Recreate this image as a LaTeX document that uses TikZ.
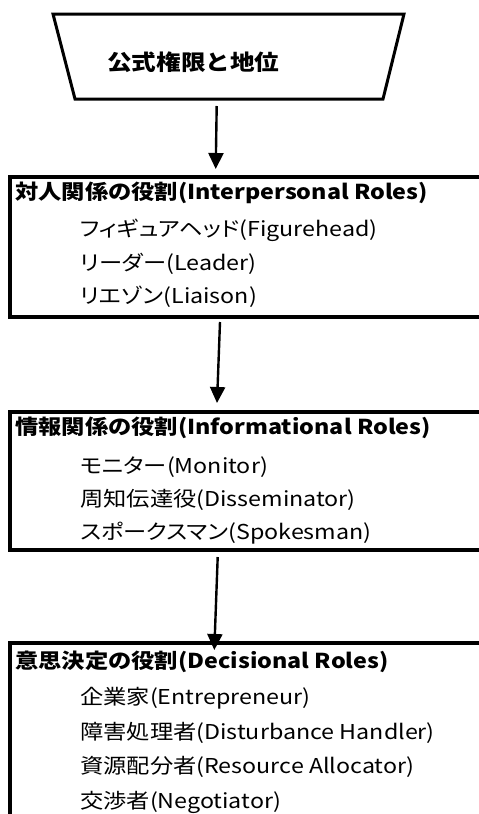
\documentclass[tikz,border=0pt]{standalone}
\usepackage{fontspec}
\setmainfont{Noto Sans CJK JP}[FakeStretch=1.135]
\newfontfamily\propjp{Noto Sans CJK JP}[FakeStretch=1.135, RawFeature=+palt]
\usetikzlibrary{arrows.meta}
\tikzset{
  roleframe/.style={draw=black, line width=4pt},
  trapframe/.style={draw=black, line width=3pt, line join=miter},
  flow/.style={draw=black, line width=2.4pt, -{Triangle[length=16pt,width=15pt]}},
  headtext/.style={anchor=west, inner sep=0pt, font=\fontsize{20.5}{24}\selectfont\bfseries},
  itemtext/.style={anchor=west, inner sep=0pt, font=\propjp\fontsize{20.5}{24}\selectfont},
  toptext/.style={anchor=west, inner sep=0pt, font=\fontsize{21.7}{24}\selectfont\bfseries}
}
\begin{document}
\begin{tikzpicture}[x=1pt,y=-1pt]
\useasboundingbox (0,0) rectangle (479,814);
\clip (0,0) rectangle (479,814);
% source trapezoid
\coordinate (t1) at (53,14);
\coordinate (t2) at (404,14);
\coordinate (t3) at (383,99);
\coordinate (t4) at (75,99);
\draw[trapframe] (t1) -- (t2) -- (t3) -- (t4) -- cycle;
\node[toptext] (src) at (107,62) {公式権限と地位};
% boxes
\draw[roleframe] (10.3,177) rectangle (495,317);
\draw[roleframe] (10.3,412) rectangle (495,550);
\draw[roleframe] (10.3,643) rectangle (495,840);
% box 1
\node[headtext] (h1) at (15,193) {対人関係の役割(Interpersonal Roles)};
\node[itemtext] (i11) at (80,230) {フィギュアヘッド(Figurehead)};
\node[itemtext] (i12) at (80,264) {リーダー(Leader)};
\node[itemtext] (i13) at (80,297) {リエゾン(Liaison)};
% box 2
\node[headtext] (h2) at (15,428) {情報関係の役割(Informational Roles)};
\node[itemtext] (i21) at (80,467) {モニター(Monitor)};
\node[itemtext] (i22) at (80,500) {周知伝達役(Disseminator)};
\node[itemtext] (i23) at (80,533) {スポークスマン(Spokesman)};
% box 3
\node[headtext] (h3) at (15,662) {意思決定の役割(Decisional Roles)};
\node[itemtext] (i31) at (80,698) {企業家(Entrepreneur)};
\node[itemtext] (i32) at (80,733) {障害処理者(Disturbance Handler)};
\node[itemtext] (i33) at (80,767) {資源配分者(Resource Allocator)};
\node[itemtext] (i34) at (80,802) {交渉者(Negotiator)};
% arrows
\coordinate (a1s) at (216.7,106);
\coordinate (a1e) at (215.7,169);
\coordinate (a2s) at (220,322);
\coordinate (a2e) at (217,403);
\coordinate (a3s) at (217.7,557);
\coordinate (a3e) at (214.3,650);
\draw[flow] (a1s) -- (a1e);
\draw[flow] (a2s) -- (a2e);
\draw[flow] (a3s) -- (a3e);
\end{tikzpicture}
\end{document}
